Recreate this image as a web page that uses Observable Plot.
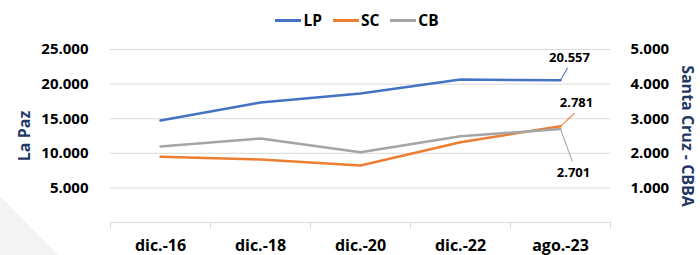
<!DOCTYPE html>
<html><head><meta charset="utf-8">
<script src="https://cdn.jsdelivr.net/npm/d3@7"></script>
<script src="https://cdn.jsdelivr.net/npm/@observablehq/plot@0.6"></script>
<style>
body{margin:0;background:#fff;font-family:"Open Sans",sans-serif;}
#wrap{width:700px;height:255px;position:relative;overflow:hidden;}
#deco{position:absolute;left:0;top:0;width:700px;height:255px;background:#f3f3f3;clip-path:polygon(0 196px,58px 255px,0 255px);}
#legend{position:relative;height:35px;padding-top:5px;display:flex;justify-content:center;align-items:center;gap:11px;font-weight:700;font-size:15.5px;color:#000;padding-left:14px;box-sizing:border-box;}
#legend .item{display:flex;align-items:center;gap:2px;}
#legend .sw{width:26px;height:3px;display:inline-block;}
#chart{position:relative;}
</style></head>
<body><div id="wrap"><div id="deco"></div><div id="legend"></div><div id="chart"></div></div>
<script>
const categories = ["dic.-16","dic.-18","dic.-20","dic.-22","ago.-23"];
const seriesNames = ["LP","SC","CB"];
const seriesColors = ["#4472C4","#ED7D31","#A5A5A5"];
const lpValues = [14750, 17350, 18650, 20650, 20557];
const scValues = [1900, 1820, 1650, 2320, 2781];
const cbValues = [2200, 2430, 2030, 2490, 2701];
const leftTicks = [5000, 10000, 15000, 20000, 25000];
const rightTicks = [1000, 2000, 3000, 4000, 5000];
const leftMax = 25000, rightMax = 5000;
const ratio = leftMax / rightMax;

const fmt = d3.formatLocale({thousands:".", decimal:",", grouping:[3], currency:["",""]}).format(",.0f");

const rows = [];
[lpValues, scValues, cbValues].forEach((vals, s) => {
  vals.forEach((v, i) => rows.push({i, series: seriesNames[s], value: v, plotted: s === 0 ? v : v * ratio}));
});
const last = categories.length - 1;
const boundaries = d3.range(categories.length + 1).map(k => k - 0.5);

const legend = document.getElementById("legend");
seriesNames.forEach((n, k) => {
  const it = document.createElement("span"); it.className = "item";
  const sw = document.createElement("span"); sw.className = "sw"; sw.style.background = seriesColors[k];
  const tx = document.createElement("span"); tx.textContent = n;
  it.appendChild(sw); it.appendChild(tx); legend.appendChild(it);
});

const leader = {draw(ctx, l) { ctx.moveTo(0, 0); ctx.lineTo(0, -l); }};
const lastRow = s => rows.find(r => r.series === s && r.i === last);

const chart = Plot.plot({
  width: 700, height: 220,
  marginLeft: 110, marginRight: 90, marginTop: 14, marginBottom: 33,
  style: {fontFamily: "'Open Sans', sans-serif", fontWeight: 700, color: "#000", background: "transparent"},
  x: {type: "linear", domain: [-0.5, last + 0.5]},
  y: {domain: [0, leftMax]},
  color: {domain: seriesNames, range: seriesColors},
  marks: [
    Plot.gridY(leftTicks, {stroke: "#d9d9d9", strokeOpacity: 1}),
    Plot.ruleY([0], {stroke: "#d9d9d9"}),
    Plot.ruleX(boundaries, {y1: 0, y2: 0, insetBottom: -6, stroke: "#d9d9d9"}),
    Plot.axisY({anchor: "left", ticks: leftTicks, tickFormat: fmt, tickSize: 0, tickPadding: 22, fontSize: 15,
      label: "La Paz", labelAnchor: "center", labelOffset: 92, labelArrow: "none"}),
    Plot.axisY({anchor: "right", ticks: leftTicks, tickFormat: d => fmt(d / ratio), tickSize: 0, tickPadding: 20, fontSize: 15,
      label: "Santa Cruz - CBBA", labelAnchor: "center", labelOffset: 80, labelArrow: "none"}),
    Plot.axisX({ticks: d3.range(categories.length), tickFormat: i => categories[i], tickSize: 0, tickPadding: 17, fontSize: 16, label: null}),
    Plot.line(rows, {x: "i", y: "plotted", stroke: "series", z: "series", strokeWidth: 2.5}),
    Plot.vector([lastRow("LP")], {x: "i", y: "plotted", anchor: "start", length: 14, rotate: 30, shape: leader, stroke: "#4472C4", strokeWidth: 1}),
    Plot.vector([lastRow("SC")], {x: "i", y: "plotted", anchor: "start", length: 19, rotate: 47, shape: leader, stroke: "#ED7D31", strokeWidth: 1}),
    Plot.vector([lastRow("CB")], {x: "i", y: "plotted", anchor: "start", length: 34, rotate: 160, shape: leader, stroke: "#A5A5A5", strokeWidth: 1}),
    Plot.text([lastRow("LP")], {x: "i", y: "plotted", text: d => fmt(d.value), dx: 9, dy: -22, fontSize: 13, fontWeight: 700}),
    Plot.text([lastRow("SC")], {x: "i", y: "plotted", text: d => fmt(d.value), dx: 16, dy: -23, fontSize: 13, fontWeight: 700}),
    Plot.text([lastRow("CB")], {x: "i", y: "plotted", text: d => fmt(d.value), dx: 13, dy: 44, fontSize: 13, fontWeight: 700})
  ]
});
const labelTexts = Array.from(chart.querySelectorAll("g[aria-label='y-axis label'] text"));
labelTexts.forEach(t => {
  t.setAttribute("fill", "#1F3864"); t.setAttribute("font-size", "16");
  const tr = t.getAttribute("transform") || "";
  const m = tr.match(/translate\(([-\d.]+)/);
  if (m && +m[1] > 350) {
    const nx = +m[1] - 9;
    t.setAttribute("transform", tr.replace(m[0], "translate(" + nx).replace("rotate(-90)", "rotate(90)"));
  }
});
document.getElementById("chart").appendChild(chart);
</script></body></html>
